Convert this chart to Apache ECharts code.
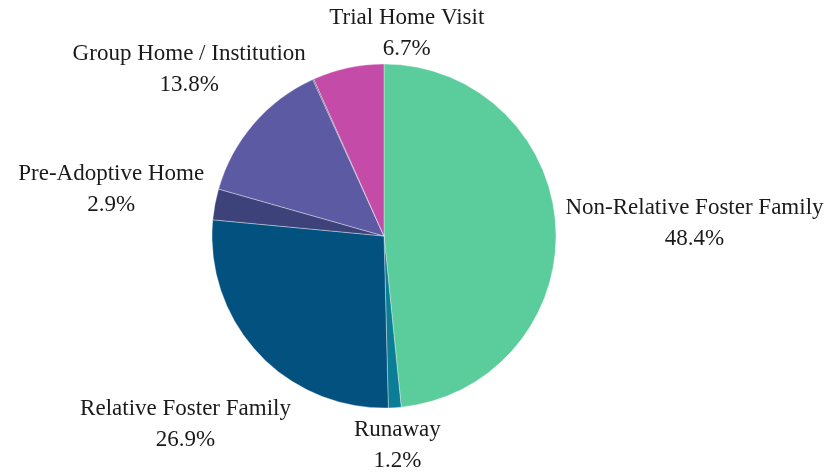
<!DOCTYPE html>
<html>
<head>
<meta charset="utf-8">
<script src="https://cdn.jsdelivr.net/npm/echarts@6/dist/echarts.min.js"></script>
<style>
  html, body { margin: 0; padding: 0; background: #fff; }
  #chart { width: 831px; height: 472px; }
</style>
</head>
<body>
<div id="chart"></div>
<script>
// placement categories, clockwise from 12 o'clock
var categories = ['Non-Relative Foster Family', 'Runaway', 'Relative Foster Family',
    'Pre-Adoptive Home', 'Group Home / Institution', 'Other', 'Trial Home Visit'];
// share of children, percent
var shares = [48.4, 1.2, 26.9, 2.9, 13.8, 0.1, 6.7];
var colors = ['#5BCC9C', '#0B7E96', '#03517F', '#3E427A', '#5D5AA4', '#3A3A5E', '#C54BA9'];
var showLabel = [true, true, true, true, true, false, true];

// layout
var cx = 384, cy = 236, r = 172, gap = 10;
// small hand nudges for labels that the chart tool moved off the radial spot
var labelNudge = [[0, 3], [0, -3], [-7, 10], [-4, 4], [12, 11], [0, 0], [68, 9]];

var total = shares.reduce(function (a, b) { return a + b; }, 0);
var midAngle = [];
var acc = 0;
shares.forEach(function (v) {
    midAngle.push((acc + v / 2) / total * Math.PI * 2);
    acc += v;
});

var myChart = echarts.init(document.getElementById('chart'), null, {renderer: 'canvas'});

var option = {
    backgroundColor: '#fff',
    animation: false,
    series: [{
        type: 'pie',
        center: [cx, cy],
        radius: r,
        startAngle: 90,
        clockwise: true,
        avoidLabelOverlap: false,
        itemStyle: {
            borderColor: 'rgba(255,255,255,0.6)',
            borderWidth: 0.6
        },
        label: {
            position: 'outside',
            fontFamily: '"Liberation Serif", "DejaVu Serif", serif',
            fontSize: 23,
            lineHeight: 31,
            color: '#1a1a1a',
            formatter: function (p) {
                return p.name + '\n' + p.value.toFixed(1) + '%';
            }
        },
        labelLine: {show: false},
        labelLayout: function (p) {
            var i = p.dataIndex;
            var a = midAngle[i];
            var s = Math.sin(a), c = Math.cos(a);
            var w = p.labelRect.width / 2, h = p.labelRect.height / 2;
            var e = Math.sqrt(Math.pow(w * s, 2) + Math.pow(h * c, 2));
            var d = r + gap + e;
            return {
                x: cx + d * s + labelNudge[i][0],
                y: cy - d * c + labelNudge[i][1],
                align: 'center',
                verticalAlign: 'middle'
            };
        },
        data: categories.map(function (name, i) {
            return {
                name: name,
                value: shares[i],
                itemStyle: {color: colors[i]},
                label: {show: showLabel[i]}
            };
        })
    }]
};
myChart.setOption(option);
window.onresize = myChart.resize;
</script>
</body>
</html>
